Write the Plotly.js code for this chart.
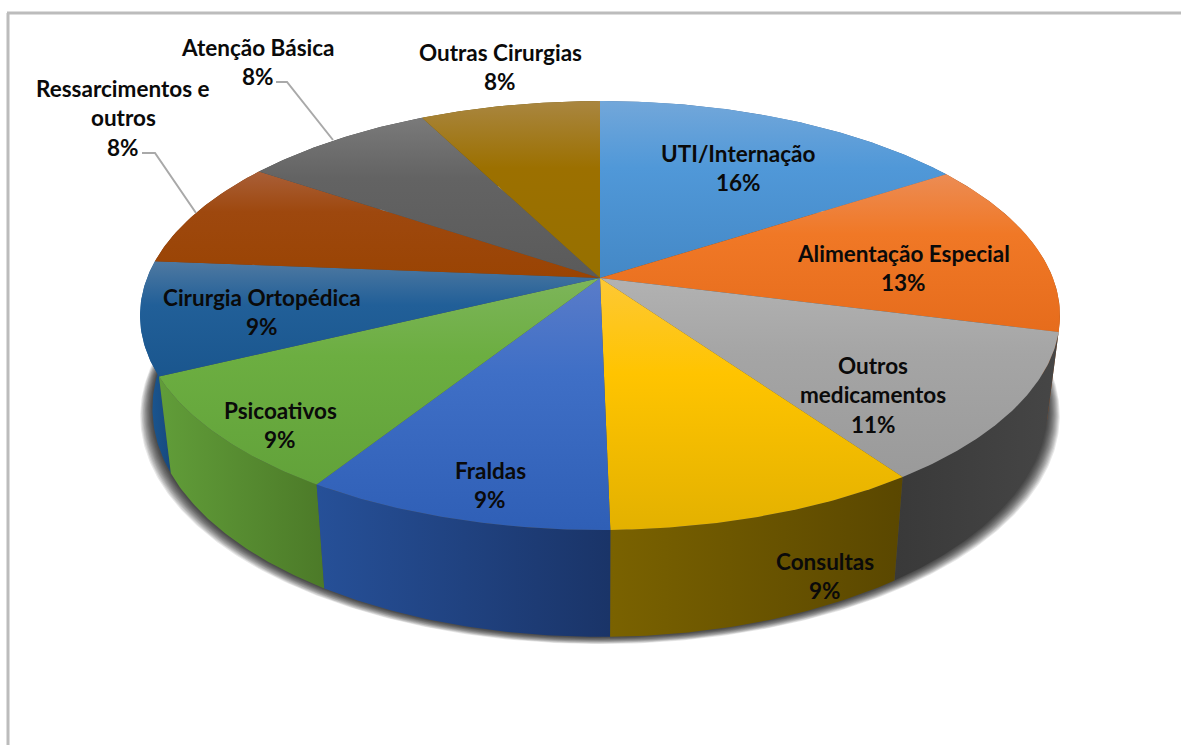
<!DOCTYPE html>
<html><head><meta charset="utf-8">
<script src="https://cdn.plot.ly/plotly-3.0.1.min.js"></script>
<style>html,body{margin:0;padding:0;background:#fff}#chart{width:1181px;height:745px}</style>
</head><body><div id="chart"></div>
<script>
// ---- data ----
var categories = ["UTI/Internação","Alimentação Especial","Outros|medicamentos","Consultas","Fraldas","Psicoativos","Cirurgia Ortopédica","Ressarcimentos e|outros","Atenção Básica","Outras Cirurgias"];
var shares = [15.8,13.2,11.3,9.4,9.25,8.85,8.5,8.2,8.0,7.5];
// ---- styles ----
var topLight = ["#72a7da","#ec8c54","#b2b2b2","#fdc835","#5a7cc9","#7db55a","#4f79a1","#a95f38","#7a7a7a","#a98640"];
var topMid   = ["#5098d8","#f07826","#a5a5a5","#ffc400","#3f6fc6","#6cae41","#215f98","#9e480e","#636363","#9c7000"];
var topDark  = ["#4488c6","#e66c1c","#9a9a9a","#e3b100","#2f5fb6","#62a23a","#1a568e","#9a4403","#5a5a5a","#967000"];
var wallLeft  = ["#3e6a9a","#a0501a","#393939","#7a6200","#265098","#619d39","#1c5c98","#7a3508","#444444","#6a5000"];
var wallRight = ["#3e6a9a","#a0501a","#464646","#5a4700","#1a3468","#4c7a28","#17497e","#7a3508","#444444","#6a5000"];
var labelX = [738,903,873,825,490,280,262,123,258,500];
var labelY = [153,253,365,561,470,410,297,88,47,52];
var lineGap = 29.5;
var leaderA = {x:[276,287,333],y:[82,82,140]};
var leaderB = {x:[142,155,196],y:[153,153,213]};

// ---- projection of the pie disc ----
var cx=600, cy=278, k=0.1748, A=452.9, B=207.9, scaleLow=0.973;
function topPt(t){var w=1+k*Math.cos(t);return [cx+A*Math.sin(t)/w, cy-B*Math.cos(t)/w];}
function lowPt(t){var p=topPt(t);return [cx+(p[0]-cx)*scaleLow, 1.065*p[1]+72.5];}
function arc(fn,a,b){var n=Math.max(8,Math.ceil(Math.abs(b-a)/0.01)),o=[];for(var i=0;i<=n;i++)o.push(fn(a+(b-a)*i/n));return o;}

var total=shares.reduce(function(s,v){return s+v;},0), cum=0, slices=[];
shares.forEach(function(v,i){var a=cum/total*2*Math.PI;cum+=v;var b=cum/total*2*Math.PI;slices.push({i:i,a:a,b:b});});

var traces=[];
function poly(pts,extra){var t={x:pts.map(function(p){return p[0];}),y:pts.map(function(p){return p[1];}),mode:'lines',line:{width:0},fill:'toself',hoverinfo:'skip',showlegend:false};for(var q in extra)t[q]=extra[q];return t;}

// soft shadow below the wall
for(var e=12;e>=1;e--){
  var ring=arc(function(t){var p=lowPt(t);return [cx+(p[0]-cx)*(1+e/440), p[1]+e*0.6];},0,2*Math.PI);
  traces.push(poly(ring,{fillcolor:'rgba(0,0,0,0.095)'}));
}
// side walls, back to front
slices.slice().sort(function(p,q){return Math.abs(Math.PI-(q.a+q.b)/2)-Math.abs(Math.PI-(p.a+p.b)/2);}).forEach(function(s){
  var up=arc(topPt,s.a,s.b), low=arc(lowPt,s.b,s.a), pts=up.concat(low);
  traces.push(poly(pts,{fillgradient:{type:'horizontal',colorscale:[[0,wallLeft[s.i]],[1,wallRight[s.i]]]},fillcolor:wallLeft[s.i]}));
});
// top faces
slices.forEach(function(s){
  var pts=[[cx,cy]].concat(arc(topPt,s.a,s.b));pts.push([cx,cy]);
  var ys=pts.map(function(p){return p[1];}), y0=Math.min.apply(null,ys), y1=Math.max.apply(null,ys);
  traces.push(poly(pts,{fillgradient:{type:'vertical',start:y0,stop:y1,colorscale:[[0,topLight[s.i]],[0.38,topMid[s.i]],[1,topDark[s.i]]]},fillcolor:topMid[s.i]}));
});
// leader lines
[leaderA,leaderB].forEach(function(l){traces.push({x:l.x,y:l.y,mode:'lines',line:{color:'#a9a9a9',width:2},hoverinfo:'skip',showlegend:false});});

// labels
var annotations=[];
categories.forEach(function(c,i){
  var lines=c.split('|').concat([Math.round(shares[i])+'%']);
  lines.forEach(function(t,j){annotations.push({x:labelX[i],y:labelY[i]+j*lineGap,xref:'x',yref:'y',text:t,showarrow:false,xanchor:'center',yanchor:'middle',font:{family:'Lato, Carlito, sans-serif',size:22.5,weight:700,color:'#0a0a0a'}});});
});

var layout={width:1181,height:745,margin:{l:0,r:0,t:0,b:0},paper_bgcolor:'#fff',plot_bgcolor:'#fff',showlegend:false,
 xaxis:{range:[0,1181],visible:false,fixedrange:true},yaxis:{range:[745,0],visible:false,fixedrange:true},
 annotations:annotations,
 shapes:[{type:'line',xref:'x',yref:'y',x0:8,x1:8,y0:13,y1:745,line:{color:'#bcbcbc',width:3},layer:'below'},
         {type:'line',xref:'x',yref:'y',x0:7,x1:1181,y0:13,y1:13,line:{color:'#bcbcbc',width:3},layer:'below'}]};
Plotly.newPlot('chart',traces,layout,{displayModeBar:false,staticPlot:true});
</script></body></html>
